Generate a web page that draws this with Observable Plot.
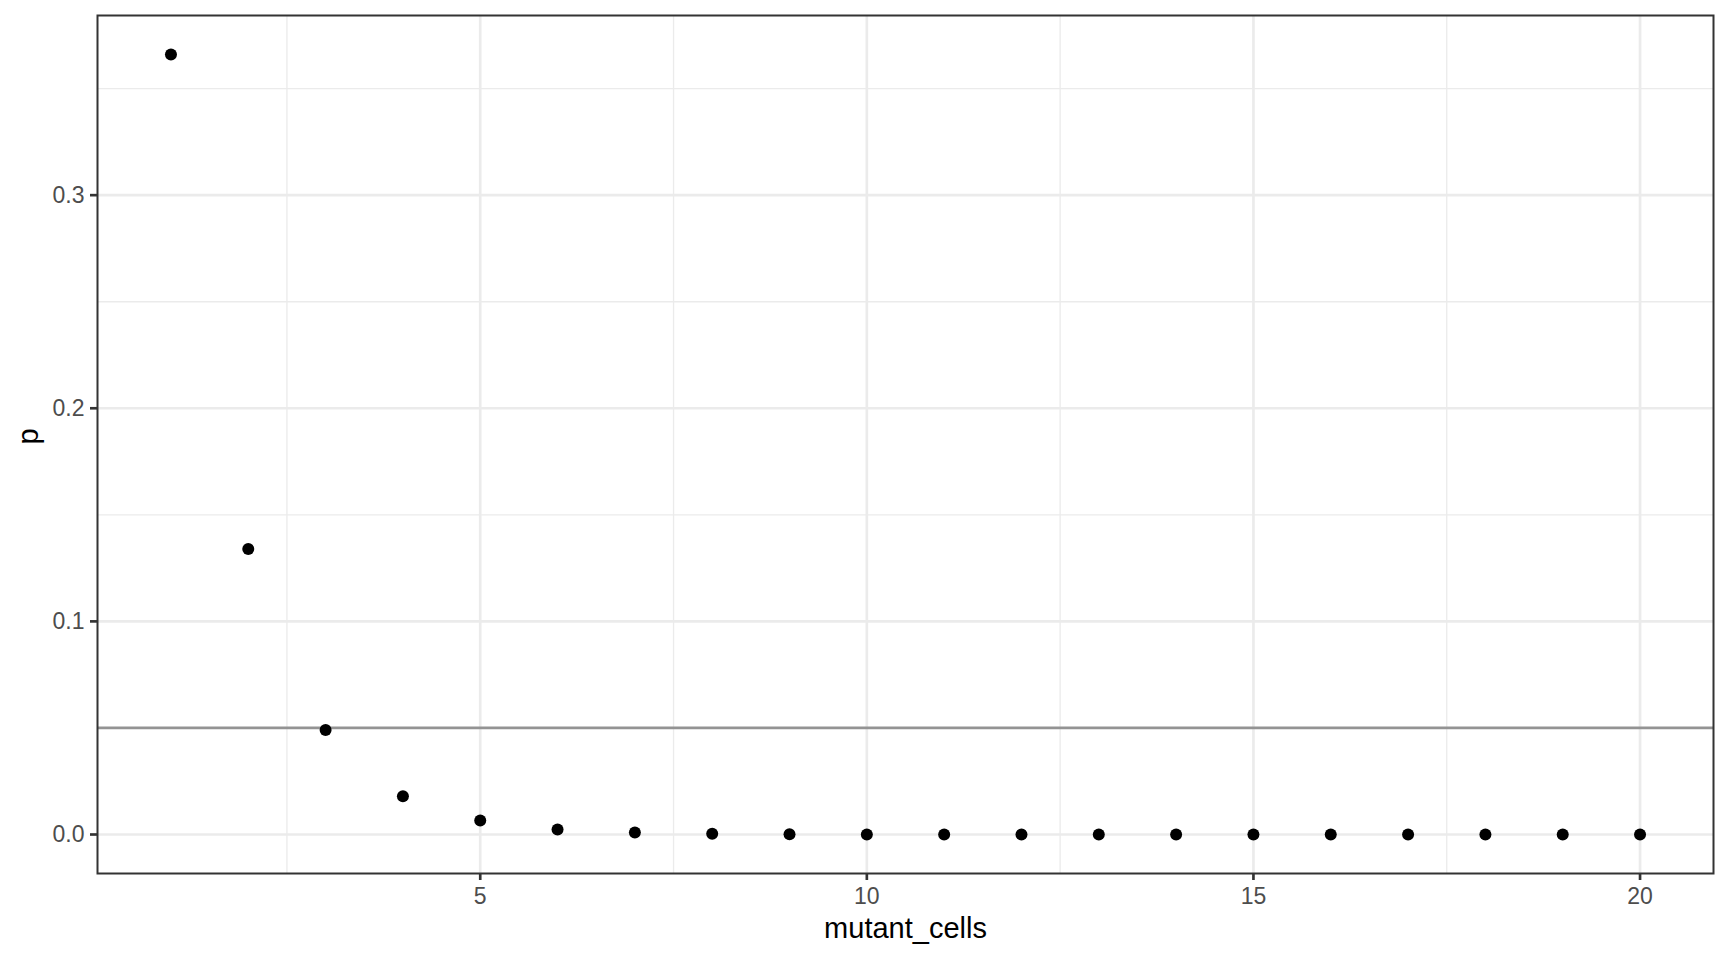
<!DOCTYPE html>
<html>
<head>
<meta charset="utf-8">
<script src="https://cdn.jsdelivr.net/npm/d3@7"></script>
<script src="https://cdn.jsdelivr.net/npm/@observablehq/plot@0.6"></script>
<style>
  html, body { margin: 0; padding: 0; background: #ffffff; }
  #chart svg { display: block; }
</style>
</head>
<body>
<div id="chart"></div>
<script>
// Data
const mutantCells = [1, 2, 3, 4, 5, 6, 7, 8, 9, 10, 11, 12, 13, 14, 15, 16, 17, 18, 19, 20];
const pValues = [0.366, 0.134, 0.049, 0.018, 0.0066, 0.0024, 0.0009, 0.0003, 0.0001, 0.00004,
                 0.00002, 0.000005, 0.000002, 0.000001, 0, 0, 0, 0, 0, 0];
const threshold = [0.05];

// Axis ticks / gridlines
const xTicks = [5, 10, 15, 20];
const xMinor = [2.5, 7.5, 12.5, 17.5];
const yTicks = [0, 0.1, 0.2, 0.3];
const yMinor = [0.05, 0.15, 0.25, 0.35];
const xLabel = "mutant_cells";
const yLabel = "p";

const data = mutantCells.map((m, i) => ({mutant_cells: m, p: pValues[i]}));

const chart = Plot.plot({
  width: 1728,
  height: 960,
  marginLeft: 97,
  marginRight: 15,
  marginTop: 15,
  marginBottom: 87,
  style: {fontFamily: "'Liberation Sans', Arial, Helvetica, sans-serif", background: "#ffffff"},
  x: {domain: [0.05, 20.95]},
  y: {domain: [-0.0183, 0.3843]},
  marks: [
    Plot.gridX(xMinor, {stroke: "#EBEBEB", strokeOpacity: 1, strokeWidth: 1.33}),
    Plot.gridY(yMinor, {stroke: "#EBEBEB", strokeOpacity: 1, strokeWidth: 1.33}),
    Plot.gridX(xTicks, {stroke: "#EBEBEB", strokeOpacity: 1, strokeWidth: 2.67}),
    Plot.gridY(yTicks, {stroke: "#EBEBEB", strokeOpacity: 1, strokeWidth: 2.67}),
    Plot.ruleY(threshold, {stroke: "#939393", strokeWidth: 2.67}),
    Plot.dot(data, {x: "mutant_cells", y: "p", r: 6, fill: "#000000", stroke: null}),
    Plot.frame({stroke: "#333333", strokeWidth: 2}),
    Plot.axisX({ticks: xTicks, tickSize: 7, tickPadding: 7, fontSize: 23, stroke: "#333333", strokeWidth: 2.67, fill: "#4D4D4D", tickFormat: d => String(d), label: null}),
    Plot.axisY({ticks: yTicks, tickSize: 7, tickPadding: 6, fontSize: 23, stroke: "#333333", strokeWidth: 2.67, fill: "#4D4D4D", tickFormat: d3.format(".1f"), label: null}),
    Plot.text([xLabel], {frameAnchor: "bottom", lineAnchor: "bottom", dy: 64, fontSize: 29, fill: "#000000"}),
    Plot.text([yLabel], {frameAnchor: "left", lineAnchor: "bottom", rotate: -90, dx: -60, fontSize: 29, fill: "#000000"})
  ]
});

document.getElementById("chart").appendChild(chart);
</script>
</body>
</html>
